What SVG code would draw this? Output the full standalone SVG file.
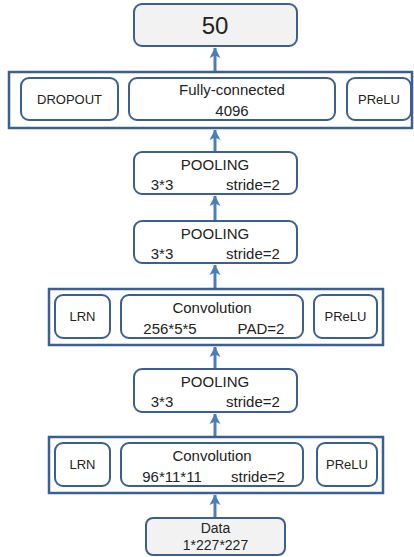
<svg xmlns="http://www.w3.org/2000/svg" width="414" height="557" viewBox="0 0 414 557">
<defs>
<marker id="ah" markerWidth="12" markerHeight="12" refX="10" refY="6" orient="auto" markerUnits="userSpaceOnUse">
<path d="M0,0.5 L10.5,6 L0,11.5 L2.5,6 Z" fill="#4a7ebb"/>
</marker>
<style>
.box{fill:#ffffff;stroke:#3b5f8f;stroke-width:2}
.gbox{fill:#f2f2f2;stroke:#3b5f8f;stroke-width:2}
.outer{fill:#ffffff;stroke:#3b5f8f;stroke-width:2.5}
.t{font-family:"Liberation Sans",Arial,sans-serif;font-size:15px;fill:#222;text-anchor:middle;dominant-baseline:central}
.ts{font-family:"Liberation Sans",Arial,sans-serif;font-size:13px;fill:#222;text-anchor:middle;dominant-baseline:central}
.td{font-family:"Liberation Sans",Arial,sans-serif;font-size:14px;fill:#222;text-anchor:middle;dominant-baseline:central}
.c{stroke:#4a7ebb;stroke-width:3;fill:none}
</style>
</defs>
<g id="connectors">
<line class="c" x1="215" y1="72" x2="215" y2="48" marker-end="url(#ah)"/>
<line class="c" x1="215" y1="152" x2="215" y2="130" marker-end="url(#ah)"/>
<line class="c" x1="215" y1="221" x2="215" y2="196" marker-end="url(#ah)"/>
<line class="c" x1="215" y1="289" x2="215" y2="265" marker-end="url(#ah)"/>
<line class="c" x1="215" y1="369" x2="215" y2="347" marker-end="url(#ah)"/>
<line class="c" x1="215" y1="437" x2="215" y2="414" marker-end="url(#ah)"/>
<line class="c" x1="215" y1="518" x2="215" y2="495" marker-end="url(#ah)"/>
</g>
<g id="out50">
<rect class="gbox" x="134" y="4" width="163" height="42" rx="8"/>
<text class="t" x="215" y="25" style="font-size:24px">50</text>
</g>
<g id="fc">
<rect class="outer" x="9" y="72" width="403" height="56"/>
<rect class="box" x="21" y="78" width="97" height="42" rx="8"/>
<text class="ts" x="69.5" y="99">DROPOUT</text>
<rect class="box" x="129" y="78" width="206" height="42" rx="8"/>
<text class="t" x="232" y="89">Fully-connected</text>
<text class="t" x="232" y="110">4096</text>
<rect class="box" x="347" y="78" width="64" height="42" rx="8"/>
<text class="ts" x="379" y="99">PReLU</text>
</g>
<g id="pool3">
<rect class="box" x="134" y="152" width="163" height="42" rx="8"/>
<text class="t" x="215" y="164">POOLING</text>
<text class="t" x="162" y="184">3*3</text>
<text class="t" x="253" y="184">stride=2</text>
</g>
<g id="pool2">
<rect class="box" x="134" y="221" width="163" height="42" rx="8"/>
<text class="t" x="215" y="233">POOLING</text>
<text class="t" x="162" y="253">3*3</text>
<text class="t" x="253" y="253">stride=2</text>
</g>
<g id="conv2">
<rect class="outer" x="49" y="289" width="334" height="56"/>
<rect class="box" x="55" y="295" width="55" height="43" rx="8"/>
<text class="ts" x="82.5" y="316.5">LRN</text>
<rect class="box" x="121" y="295" width="182" height="43" rx="8"/>
<text class="t" x="212" y="307">Convolution</text>
<text class="t" x="170" y="328">256*5*5</text>
<text class="t" x="261" y="328">PAD=2</text>
<rect class="box" x="314" y="295" width="63" height="43" rx="8"/>
<text class="ts" x="345.5" y="316.5">PReLU</text>
</g>
<g id="pool1">
<rect class="box" x="134" y="369" width="163" height="43" rx="8"/>
<text class="t" x="215" y="381">POOLING</text>
<text class="t" x="162" y="401">3*3</text>
<text class="t" x="253" y="401">stride=2</text>
</g>
<g id="conv1">
<rect class="outer" x="49" y="437" width="334" height="56"/>
<rect class="box" x="55" y="443" width="55" height="43" rx="8"/>
<text class="ts" x="82.5" y="464.5">LRN</text>
<rect class="box" x="121" y="443" width="182" height="43" rx="8"/>
<text class="t" x="212" y="455">Convolution</text>
<text class="t" x="172" y="476">96*11*11</text>
<text class="t" x="258" y="476">stride=2</text>
<rect class="box" x="317" y="443" width="60" height="43" rx="8"/>
<text class="ts" x="347" y="464.5">PReLU</text>
</g>
<g id="data">
<rect class="gbox" x="146" y="518" width="139" height="37" rx="7"/>
<text class="td" x="215.5" y="528">Data</text>
<text class="td" x="215.5" y="545">1*227*227</text>
</g>
</svg>
